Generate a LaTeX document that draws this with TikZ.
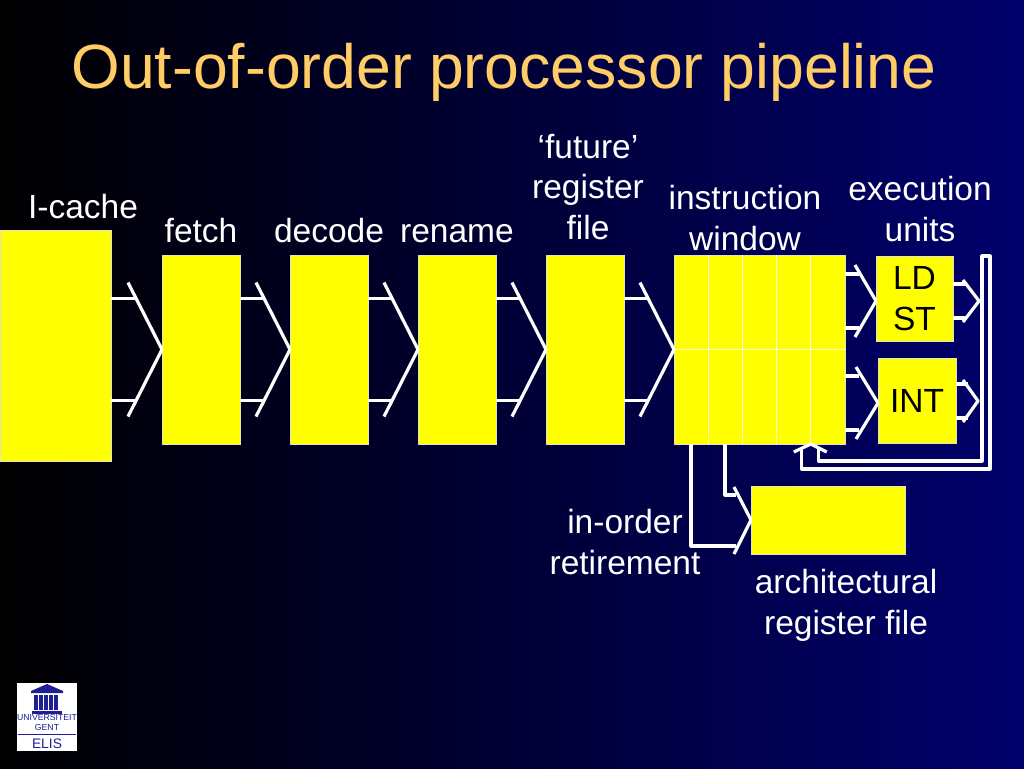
\documentclass[tikz,border=0pt]{standalone}
\usepackage{fontspec}
\setmainfont{Liberation Sans}
\usetikzlibrary{positioning,calc}
\definecolor{slidenavy}{RGB}{0,0,108}
\definecolor{titlecol}{RGB}{255,204,102}
\definecolor{logoblue}{RGB}{30,30,150}
\definecolor{edgecol}{RGB}{225,225,200}
\definecolor{stagecol}{RGB}{255,255,0}
\newcommand{\labelfont}{\fontsize{33.5}{40.7}\selectfont}

\begin{document}
\begin{tikzpicture}[
    x=1pt, y=-1pt,
    stage/.style={draw=edgecol, line width=0.6pt, fill=stagecol, inner sep=0pt, outer sep=0pt, minimum width=78pt, minimum height=189pt},
    unit/.style={stage, text=black, font=\labelfont, align=center},
    caption/.style={text=white, font=\labelfont, align=center, inner sep=0pt},
    steplabel/.style={caption, text height=25pt, text depth=7pt},
    wire/.style={draw=white, line width=3.2pt, line join=round},
    cellline/.style={draw=white!80!stagecol, line width=0.9pt},
    logotext/.style={text=logoblue, inner sep=0pt},
]
\useasboundingbox (0,0) rectangle (1024,768);
\shade[left color=black, right color=slidenavy] (0,0) rectangle (1024,768);

\node[text=titlecol, font=\fontsize{62.5}{70}\selectfont, inner sep=0pt] (title) at (504,72) {Out-of-order processor pipeline};

% pipeline row
\node[stage, minimum width=111pt, minimum height=231pt, anchor=north west] (icache) at (0,230) {};
\node[stage, anchor=north west] (fetch) at (162,255) {};
\node[stage, right=50pt of fetch] (decode) {};
\node[stage, right=50pt of decode] (rename) {};
\node[stage, right=50pt of rename] (future) {};
\node[stage, minimum width=171pt, right=50pt of future] (window) {};
\node[unit, minimum width=77pt, minimum height=85pt, anchor=north west] (ldst) at (876,256) {LD\\ST};
\node[unit, minimum width=78pt, minimum height=85pt, anchor=north west] (int) at (878,358) {INT};
\node[stage, minimum width=154pt, minimum height=68pt, anchor=north west] (archfile) at (751,486) {};

% window cells
\foreach \f in {0.2,0.4,0.6,0.8}
    \draw[cellline] ($(window.north west)!\f!(window.north east)$) -- ($(window.south west)!\f!(window.south east)$);
\draw[cellline] (window.west) -- (window.east);

% captions
\node[caption] (icachelabel) at (83,207) {I-cache};
\node[steplabel, above=5pt of fetch] (fetchlabel) {fetch};
\node[steplabel, above=5pt of decode] (decodelabel) {decode};
\node[steplabel, above=5pt of rename] (renamelabel) {rename};
\node[caption] (futurelabel) at (588,187) {`future'\\register\\file};
\node[caption] (windowlabel) at (745,218) {instruction\\window};
\node[caption] (unitslabel) at (920,209) {execution\\units};
\node[caption] (retirelabel) at (625,542) {in-order\\retirement};
\node[caption] (archlabel) at (846,605) {architectural\\register file};

% fork tips
\coordinate (ldstin) at (876,301);
\coordinate (intin) at (878,403);
\coordinate (ldstout) at (979,301);
\coordinate (intout) at (978,401);

\foreach \a/\b/\dx/\dy/\sy/\sl in {
    icache/fetch.west/34/67/51/25,
    fetch/decode.west/34/67/51/25,
    decode/rename.west/34/67/51/25,
    rename/future.west/34/67/51/25,
    future/window.west/34/67/51/25,
    window/ldstin/21/36/27/14,
    window/intin/22/36/27/14,
    ldst/ldstout/16/21/17/14,
    int/intout/15/21/17/12%
} {
    \draw[wire] ($(\b)+(-\dx,-\dy)$) -- (\b) -- ($(\b)+(-\dx,\dy)$);
    \draw[wire] ($(\a.east |- \b)+(0,-\sy)$) -- +(\sl,0);
    \draw[wire] ($(\a.east |- \b)+(0,\sy)$) -- +(\sl,0);
}

% retirement
\draw[wire] ($(archfile.west)+(-17,-33)$) -- (archfile.west) -- ($(archfile.west)+(-17,34)$);
\draw[wire] ($(window.south west)+(17,0)$) |- ($(archfile.west)+(-15,26)$);
\draw[wire] ($(window.south west)+(51,0)$) |- ($(archfile.west)+(-15,-25)$);

% result bus
\coordinate (bustip) at ($(window.south west)!0.8!(window.south east)$);
\draw[wire] ($(bustip)+(-17,8)$) -- (bustip) -- ($(bustip)+(16,8)$);
\draw[wire] ($(bustip)+(-9,4)$) -- ($(bustip)+(-9,25)$) -- (990,469) -- (990,256) -- (982,256) -- (982,461) -- ($(bustip)+(8,17)$) -- ($(bustip)+(8,4)$);

% logo
\node[fill=white, minimum width=60pt, minimum height=68pt, inner sep=0pt, anchor=north west] (logo) at (17,683) {};
\fill[logoblue] (47,684) -- (63,691) -- (63,693) -- (31,693) -- (31,691) -- cycle;
\foreach \x in {34,39,44,49,54}
    \fill[logoblue] (\x,695) rectangle (\x+3.5,710);
\fill[logoblue] (32,711) rectangle (62,714);
\node[logotext, font=\fontsize{8.7}{9}\selectfont] (logouni) at (47,717) {UNIVERSITEIT};
\node[logotext, font=\fontsize{8.7}{9}\selectfont] (logogent) at (47,727) {GENT};
\draw[logoblue, line width=0.7pt] (18,734) -- (76,734);
\node[logotext, font=\fontsize{13.8}{14}\selectfont] (logoelis) at (47,744) {ELIS};
\end{tikzpicture}
\end{document}
